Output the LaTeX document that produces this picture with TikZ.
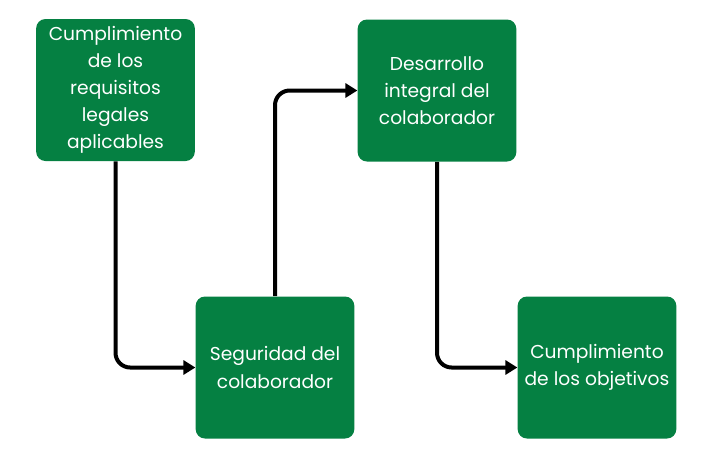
\documentclass[tikz,border=0pt]{standalone}
\usepackage{fontspec}
\setmainfont{Poppins}
\usetikzlibrary{arrows.meta, positioning}
\definecolor{boxgreen}{RGB}{5,128,66}

\begin{document}
\begin{tikzpicture}[
    x=0.75pt, y=-0.75pt,
    box/.style={rectangle, fill=boxgreen, text=white, minimum width=119pt, minimum height=106.5pt,
                rounded corners=7pt, align=center, font=\fontsize{14}{20.3}\selectfont},
    link/.style={-{Triangle[length=9pt, width=10.5pt]}, line width=3pt, rounded corners=11pt}
]
    \useasboundingbox (0,0) rectangle (710,458);
    \node[box] (legal) at (115.5,90) {Cumplimiento\\de los\\requisitos\\legales\\aplicables};
    \node[box] (seguridad) at (275,367.5) {Seguridad del\\colaborador};
    \node[box] (desarrollo) at (437,90.5) {Desarrollo\\integral del\\colaborador};
    \node[box] (objetivos) at (597,367.5) {Cumplimiento\\de los objetivos};

    \draw[link] (legal.south) |- (seguridad.west);
    \draw[link] (seguridad.north) |- (desarrollo.west);
    \draw[link] (desarrollo.south) |- (objetivos.west);
\end{tikzpicture}
\end{document}
